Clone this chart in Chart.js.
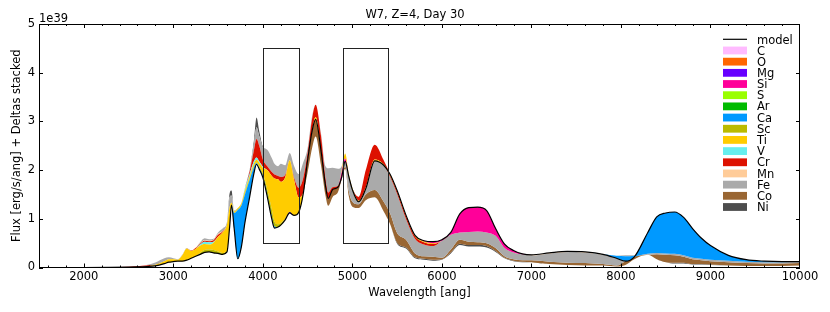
<!DOCTYPE html>
<html>
<head>
<meta charset="utf-8">
<title>W7, Z=4, Day 30</title>
<script src="https://cdn.jsdelivr.net/npm/chart.js@4/dist/chart.umd.min.js"></script>
<style>
  html, body { margin: 0; padding: 0; background: #fff; }
  #wrap { width: 830px; height: 312px; }
</style>
</head>
<body>
<div id="wrap"><canvas id="spec" width="830" height="312"></canvas></div>
<script>
/* ===== data ===== */
// wavelength grid [ang]
var wave = [
  1500, 2000, 2300, 2500, 2600, 2700, 2800, 2900, 2950, 3000, 3050, 3100,
  3150, 3200, 3250, 3300, 3350, 3400, 3450, 3500, 3550, 3600, 3630, 3650,
  3680, 3720, 3760, 3800, 3850, 3900, 3930, 3960, 4000, 4050, 4100, 4130,
  4170, 4200, 4250, 4300, 4350, 4400, 4450, 4500, 4550, 4590, 4650, 4700,
  4730, 4780, 4840, 4880, 4920, 4960, 5000, 5070, 5150, 5250, 5350, 5420,
  5500, 5600, 5700, 5800, 5900, 6000, 6100, 6200, 6300, 6400, 6500, 6600,
  6700, 6800, 6900, 7000, 7200, 7400, 7600, 7800, 7950, 8050, 8150, 8300,
  8400, 8500, 8600, 8700, 8800, 8900, 9000, 9200, 9400, 9600, 9800, 10000
];
// model flux [1e39 erg/s/ang]
var model = [
  0, 0, 0.003, 0.008, 0.012, 0.02, 0.035, 0.08, 0.11, 0.12, 0.13, 0.13,
  0.15, 0.19, 0.23, 0.27, 0.31, 0.32, 0.30, 0.29, 0.27, 0.32, 0.85, 1.28,
  0.80, 0.18, 0.42, 0.92, 1.42, 1.93, 2.12, 2.02, 1.85, 1.45, 1.00, 0.81,
  0.83, 0.87, 0.98, 1.12, 1.07, 1.13, 1.50, 2.20, 2.80, 3.04, 2.40, 1.68,
  1.42, 1.60, 1.65, 1.85, 2.18, 1.87, 1.60, 1.35, 1.62, 2.19, 2.10, 1.92,
  1.58, 1.07, 0.66, 0.55, 0.53, 0.57, 0.72, 1.10, 1.23, 1.24, 1.17, 0.80,
  0.48, 0.35, 0.28, 0.26, 0.30, 0.33, 0.32, 0.27, 0.19, 0.13, 0.22, 0.72,
  1.04, 1.12, 1.14, 1.03, 0.80, 0.60, 0.45, 0.25, 0.16, 0.13, 0.12, 0.12
];
// per-element deltas: > 0 emission (stacked under the model), < 0 absorption (stacked over it)
// no visible contribution: C, O, S, Ar
var C = [], O = [], S = [], Ar = [];
var Mg = [
  0, 0, 0, 0, 0, 0, 0, 0, 0, 0, 0, 0,
  0, 0, 0, 0, 0, 0, 0, 0, 0, 0, 0, 0,
  0, 0, 0, 0, 0, 0, 0, 0, 0, 0, 0, 0,
  0, 0, 0, -0.02, 0, 0, 0, 0, 0, 0, 0, 0,
  0, 0, 0, 0, 0, 0, 0, 0, 0, 0, 0, 0,
  0, 0, 0, 0, 0, 0, 0, 0, 0, 0, 0, 0,
  0, 0, 0, 0, 0, 0, 0, 0, 0, 0, 0, 0,
  0, 0, 0, 0, 0, 0, 0, 0, 0, 0, 0, 0
];
var Si = [
  0, 0, 0, 0, 0, 0, 0, 0, 0, 0, 0, 0,
  0, 0, 0, 0, 0, 0, 0, 0, 0, 0, 0, 0,
  0, 0, 0, 0, 0, 0, 0, 0, 0, 0, 0, 0,
  0, 0, 0, 0, 0, 0, 0, 0, 0, 0, 0, 0,
  0, 0, 0, -0.10, -0.06, 0, 0, 0, 0, 0, 0, 0,
  0, 0, 0, 0.01, 0.03, 0.02, 0.05, 0.38, 0.50, 0.50, 0.45, 0.15,
  0.08, 0.04, 0.01, 0, 0, 0, 0, 0, 0, 0, 0, 0,
  0, 0, 0, 0, 0, 0, 0, 0, 0, 0, 0, 0
];
var Ca = [
  0, 0, 0, 0, 0, 0, 0, 0, 0, 0, 0, 0,
  0, 0, 0, 0, 0, 0, 0, 0, 0, 0, 0, 0,
  -0.32, -1.00, -0.85, -0.58, -0.36, -0.13, -0.02, -0.02, -0.03, -0.03, -0.04, -0.03,
  0, 0, 0, 0, 0, 0, 0, 0, 0, 0, 0, 0,
  0, 0, 0, 0, 0, 0, 0, 0, 0, 0, 0, 0,
  0, 0, 0, 0, 0, 0, 0, 0, 0, 0, 0, 0,
  0, 0, 0, 0, 0, 0, 0, 0, -0.05, -0.10, -0.02, 0.44,
  0.74, 0.83, 0.86, 0.78, 0.60, 0.42, 0.29, 0.11, 0.04, 0.02, 0.01, 0
];
var Sc = [
  0, 0, 0, 0, 0, 0, 0, 0, 0, 0, 0, 0,
  0, 0, 0, -0.03, -0.05, -0.05, -0.06, -0.04, -0.03, -0.02, 0, 0,
  0, -0.02, -0.02, -0.03, -0.03, -0.02, -0.02, -0.03, -0.05, -0.12, -0.15, -0.10,
  -0.06, -0.04, -0.02, 0, 0, 0, 0, 0, 0, 0, 0, 0,
  0, 0, 0, 0, 0, 0, 0, 0, 0, 0, 0, 0,
  0, 0, 0, 0, 0, 0, 0, 0, 0, 0, 0, 0,
  0, 0, 0, 0, 0, 0, 0, 0, 0, 0, 0, 0,
  0, 0, 0, 0, 0, 0, 0, 0, 0, 0, 0, 0
];
var Ti = [
  0, 0, 0, 0, 0, 0, -0.02, -0.05, -0.06, -0.05, -0.03, -0.12,
  -0.24, -0.15, -0.15, -0.15, -0.12, -0.10, -0.15, -0.30, -0.42, -0.55, -0.40, -0.05,
  -0.03, -0.02, -0.03, -0.05, -0.05, -0.05, -0.05, -0.08, -0.12, -0.40, -0.69, -0.89,
  -0.92, -0.85, -0.85, -1.06, -0.72, -0.31, -0.03, 0, 0, -0.05, 0, 0,
  0, 0, 0, -0.03, -0.10, -0.05, -0.03, -0.02, -0.03, -0.03, -0.02, 0.02,
  0.02, 0.02, 0.02, 0.02, 0.02, 0, 0, 0, 0, 0, 0, 0,
  0, 0, 0, 0, 0, 0, 0, 0, 0, 0, 0, 0,
  0, 0, 0, 0, 0, 0, 0, 0, 0, 0, 0, 0
];
var V = [
  0, 0, 0, 0, 0, 0, 0, 0, 0, 0, 0, 0,
  0, 0, 0, -0.02, -0.05, -0.05, -0.02, 0, 0, 0, 0, 0,
  0, 0, 0, -0.03, -0.04, -0.05, -0.05, -0.03, -0.02, 0, 0, 0,
  0, 0, 0, 0, 0, 0, 0, 0, 0, 0, 0, 0,
  0, 0, 0, 0, 0, 0, 0, 0, 0, 0, 0, 0,
  0, 0, 0, 0, 0, 0, 0, 0, 0, 0, 0, 0,
  0, 0, 0, 0, 0, 0, 0, 0, 0, 0, 0, 0,
  0, 0, 0, 0, 0, 0, 0, 0, 0, 0, 0, 0
];
var Cr = [
  0, 0, 0, -0.005, -0.015, -0.02, 0, 0, 0, 0, 0, 0,
  0, -0.01, -0.02, -0.02, -0.02, -0.02, -0.03, -0.04, -0.02, 0, 0, 0,
  0, 0, 0, 0, -0.05, -0.22, -0.38, -0.32, -0.15, -0.08, -0.08, -0.08,
  -0.07, -0.10, -0.05, 0, -0.05, -0.20, -0.30, -0.15, -0.25, -0.25, -0.30, -0.15,
  -0.12, -0.05, -0.03, 0, 0, 0, 0, -0.08, -0.35, -0.30, -0.08, 0.03,
  0.05, 0.06, 0.05, 0.05, 0.04, 0, 0, 0, 0, 0, 0, 0,
  0, 0, 0, 0, 0, 0, 0, 0, 0, 0, 0, 0,
  0, 0, 0, 0, 0, 0, 0, 0, 0, 0, 0, 0
];
var Mn = [
  0, 0, 0, 0, 0, 0, 0, 0, 0, 0, 0, 0,
  0, 0, -0.01, -0.01, -0.01, -0.01, -0.01, -0.02, -0.01, 0, 0, 0,
  0, 0, 0, 0, 0, 0, 0, 0, 0, 0, 0, 0,
  0, 0, 0, 0, 0, 0, 0, 0, 0, 0, 0, 0,
  0, 0, 0, 0, 0, 0, 0, 0, 0, 0, 0, 0,
  0, 0, 0, 0, 0, 0, 0, 0, 0, 0, 0, 0,
  0, 0, 0, 0.01, 0.01, 0.01, 0.01, 0.01, 0, 0, 0, 0,
  0, 0, 0, 0, 0, 0, 0, 0, 0, 0, 0, 0
];
var Fe = [
  0, 0, 0, 0, 0, -0.01, -0.05, -0.06, -0.04, -0.02, -0.01, -0.01,
  -0.01, 0, 0, -0.02, -0.04, -0.03, -0.02, -0.03, -0.05, -0.05, -0.20, -0.15,
  -0.02, 0, 0, -0.02, -0.03, -0.12, -0.24, -0.20, -0.25, -0.34, -0.29, -0.22,
  -0.20, -0.27, -0.20, -0.15, -0.24, -0.28, -0.32, -0.10, -0.05, 0, -0.05, -0.25,
  -0.50, -0.40, -0.35, -0.10, 0.10, 0.30, 0.25, 0.05, 0.12, 0.60, 0.75, 0.75,
  0.80, 0.42, 0.30, 0.24, 0.22, 0.35, 0.30, 0.15, 0.20, 0.22, 0.22, 0.25,
  0.17, 0.14, 0.12, 0.10, 0.17, 0.22, 0.22, 0.19, 0.15, -0.02, -0.01, 0.02,
  0.03, 0.03, 0.03, 0.03, 0.03, 0.03, 0.03, 0.03, 0.03, 0.03, 0.03, 0.03
];
var Co = [
  0, 0, 0, 0, 0, 0, 0, 0, 0, 0, 0, 0,
  0, 0, 0, 0, 0, 0, 0, 0, 0, 0, 0, 0,
  0, 0, 0, 0, 0, 0, 0, 0, 0, 0, 0, 0,
  0, 0, 0, 0, 0, 0, 0, 0.25, 0.35, 0.35, 0.30, 0.20,
  0.15, 0.15, 0.10, 0.05, 0.05, 0.10, 0.10, 0.08, 0.12, 0.15, 0.20, 0.22,
  0.20, 0.16, 0.08, 0.05, 0.06, 0.03, 0.06, 0.08, 0.07, 0.06, 0.06, 0.06,
  0.03, 0.03, 0.03, 0.04, 0.05, 0.05, 0.05, 0.03, 0.02, 0.08, 0.05, 0,
  0.10, 0.15, 0.15, 0.12, 0.10, 0.08, 0.07, 0.07, 0.06, 0.05, 0.05, 0.05
];
var Ni = [
  0, 0, 0, 0, 0, 0, 0, 0, 0, 0, 0, 0,
  0, 0, 0, 0, 0, 0, 0, 0, 0, 0, -0.08, -0.10,
  0, 0, 0, 0, 0, -0.08, -0.20, -0.10, -0.02, 0, 0, 0,
  0, 0, 0, 0, 0, 0, 0, 0, 0, 0, 0, 0,
  0, 0, 0, 0, 0, 0, 0, 0, 0, 0, 0, 0,
  0.02, 0.02, 0.02, 0.02, 0.02, 0.01, 0.02, 0.03, 0.03, 0.03, 0.03, 0.02,
  0.01, 0.01, 0.01, 0, 0, 0, 0, 0, 0, 0, 0, 0,
  0, 0, 0.02, 0.02, 0.01, 0.01, 0.01, 0, 0, 0, 0, 0
];

var elements = ["C", "O", "Mg", "Si", "S", "Ar", "Ca", "Sc", "Ti", "V", "Cr", "Mn", "Fe", "Co", "Ni"];
var deltas = [C, O, Mg, Si, S, Ar, Ca, Sc, Ti, V, Cr, Mn, Fe, Co, Ni];
var colors = ["#ffbbff", "#ff6600", "#6600ff", "#ff0099", "#99ff00", "#00bb00", "#0099ff",
  "#bbbb00", "#ffcc00", "#66eeee", "#dd1100", "#ffcc99", "#aaaaaa", "#996633", "#4d4d4d"];

var xTicks = [2000, 3000, 4000, 5000, 6000, 7000, 8000, 9000, 10000];
var yTicks = [0, 1, 2, 3, 4, 5];
var boxX = [[4000, 4400], [4900, 5400]];
var boxY = [0.5, 4.5];

/* ===== build stacked boundaries ===== */
var FONT = { family: "'DejaVu Sans', sans-serif", size: 11.5 };
var up = model.slice(), dn = model.slice();
var datasets = [{
  label: "model",
  data: wave.map(function (w, i) { return { x: w, y: model[i] }; }),
  borderColor: "#000", borderWidth: 1.2, fill: false,
  pointRadius: 0, cubicInterpolationMode: "monotone"
}];
var upSets = [], dnSets = [];
deltas.forEach(function (d, k) {
  var u = [], l = [];
  wave.forEach(function (w, i) {
    var v = d[i] || 0;
    if (v < 0) up[i] -= v;
    if (v > 0) dn[i] -= v;
    u.push({ x: w, y: up[i] });
    l.push({ x: w, y: dn[i] });
  });
  // each band fills to the boundary just inside it (model for the first one)
  upSets.push({ label: elements[k], data: u, backgroundColor: colors[k], borderWidth: 0,
    pointRadius: 0, cubicInterpolationMode: "monotone", fill: k === 0 ? 0 : k });
  dnSets.push({ label: elements[k], data: l, backgroundColor: colors[k], borderWidth: 0,
    pointRadius: 0, cubicInterpolationMode: "monotone", fill: k === 0 ? 0 : 15 + k });
});
datasets = datasets.concat(upSets, dnSets);

/* ===== decorations: frame, inward ticks, boxes, legend, title ===== */
var decor = {
  id: "decor",
  afterDatasetsDraw: function (chart) {
    var ctx = chart.ctx, xs = chart.scales.x, ys = chart.scales.y;
    ctx.save();
    ctx.strokeStyle = "#222";
    ctx.lineWidth = 1;
    boxX.forEach(function (b) {
      var x0 = Math.round(xs.getPixelForValue(b[0])) + 0.5, x1 = Math.round(xs.getPixelForValue(b[1])) + 0.5;
      var y0 = Math.round(ys.getPixelForValue(boxY[0])) + 0.5, y1 = Math.round(ys.getPixelForValue(boxY[1])) + 0.5;
      ctx.strokeRect(x0, y1, x1 - x0, y0 - y1);
    });
    ctx.restore();
  },
  afterDraw: function (chart) {
    var ctx = chart.ctx, a = chart.chartArea, xs = chart.scales.x, ys = chart.scales.y;
    ctx.save();
    ctx.strokeStyle = "#000";
    ctx.lineWidth = 1;
    ctx.strokeRect(Math.round(a.left) + 0.5, Math.round(a.top) + 0.5,
      Math.round(a.right - a.left) - 1, Math.round(a.bottom - a.top) - 1);
    ctx.beginPath();
    var w, px, L;
    for (w = 1600; w < 10000; w += 200) {
      px = Math.round(xs.getPixelForValue(w)) + 0.5;
      L = (w % 1000 === 0) ? 4 : 2;
      ctx.moveTo(px, a.bottom); ctx.lineTo(px, a.bottom - L);
      ctx.moveTo(px, a.top); ctx.lineTo(px, a.top + L);
    }
    yTicks.forEach(function (v) {
      var py = Math.round(ys.getPixelForValue(v)) + 0.5;
      ctx.moveTo(a.left, py); ctx.lineTo(a.left + 4, py);
      ctx.moveTo(a.right, py); ctx.lineTo(a.right - 4, py);
    });
    ctx.stroke();

    ctx.fillStyle = "#000";
    ctx.font = "11.5px 'DejaVu Sans', sans-serif";
    ctx.textBaseline = "alphabetic";
    ctx.textAlign = "center";
    ctx.fillText("W7, Z=4, Day 30", 415, 18);
    ctx.textAlign = "left";
    ctx.fillText("1e39", a.left, a.top - 2);

    // legend
    var lx = a.right - 77, ly = a.top + 15.3, step = 11.18;
    ctx.strokeStyle = "#000";
    ctx.lineWidth = 1.2;
    ctx.beginPath();
    ctx.moveTo(lx, ly); ctx.lineTo(lx + 24, ly);
    ctx.stroke();
    ctx.fillText("model", lx + 34, ly + 4.2);
    elements.forEach(function (el, k) {
      var cy = ly + (k + 1) * step;
      ctx.fillStyle = colors[k];
      ctx.fillRect(lx, cy - 3.9, 24, 7.8);
      ctx.fillStyle = "#000";
      ctx.fillText(el, lx + 34, cy + 4.1);
    });
    ctx.restore();
  }
};

new Chart(document.getElementById("spec"), {
  type: "line",
  data: { datasets: datasets },
  plugins: [decor],
  options: {
    responsive: false,
    animation: false,
    events: [],
    devicePixelRatio: 1,
    layout: { padding: { left: 0, right: 30, top: 24, bottom: 0 } },
    plugins: { legend: { display: false }, tooltip: { enabled: false }, title: { display: false } },
    elements: { point: { radius: 0 } },
    scales: {
      x: {
        type: "linear", min: 1500, max: 10000,
        afterBuildTicks: function (s) { s.ticks = xTicks.map(function (v) { return { value: v }; }); },
        afterFit: function (s) { s.height = 44.5; },
        ticks: { font: FONT, color: "#000", padding: 3, maxRotation: 0, autoSkip: false,
          callback: function (v) { return String(v); } },
        grid: { display: false, drawTicks: false },
        border: { display: false },
        title: { display: true, text: "Wavelength [ang]", font: FONT, color: "#000", padding: { top: 0, bottom: 12 } }
      },
      y: {
        min: 0, max: 5,
        afterBuildTicks: function (s) { s.ticks = yTicks.map(function (v) { return { value: v }; }); },
        afterFit: function (s) { s.width = 39; },
        ticks: { font: FONT, color: "#000", padding: 4, callback: function (v) { return String(v); } },
        grid: { display: false, drawTicks: false },
        border: { display: false },
        title: { display: true, text: "Flux [erg/s/ang] + Deltas stacked", font: FONT, color: "#000", padding: { top: 10, bottom: 0 } }
      }
    }
  }
});
</script>
</body>
</html>
